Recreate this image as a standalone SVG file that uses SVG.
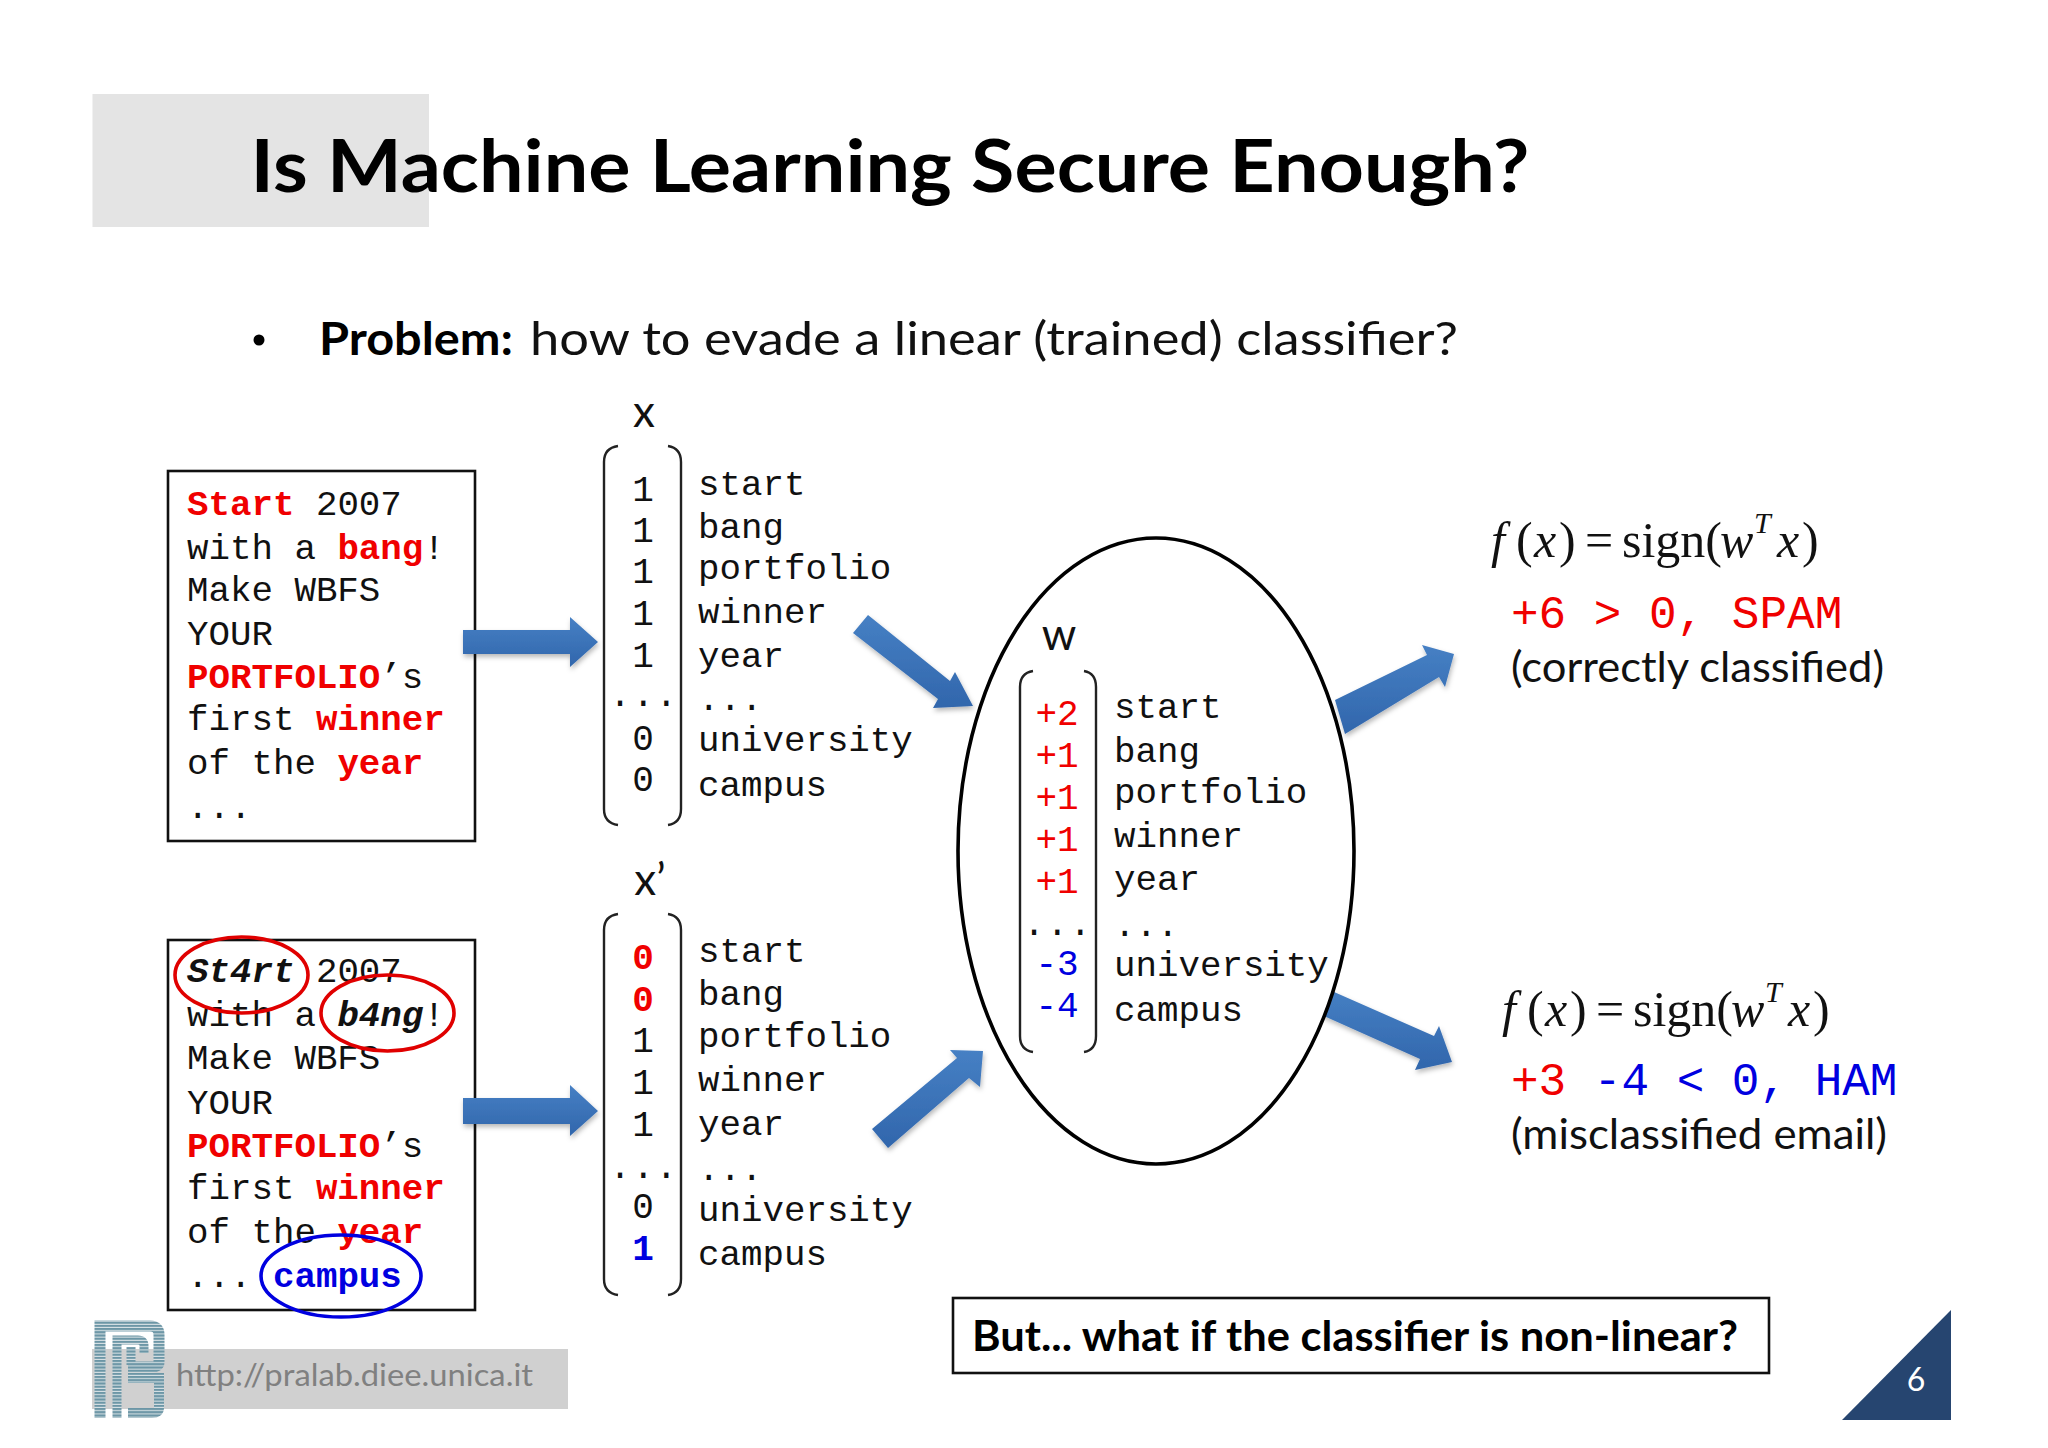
<svg xmlns="http://www.w3.org/2000/svg" width="2048" height="1448" viewBox="0 0 2048 1448">
<style>
.m{font-family:"Liberation Mono",monospace;font-size:35.8px;fill:#111}
.d{font-family:"Liberation Mono",monospace;font-size:36px;fill:#111;text-anchor:middle}
.dots{letter-spacing:1.5px}
.b{font-weight:700}
.r{fill:#f00000}
.u{fill:#0000e0}
.k{fill:#111}
.bi{font-weight:700;font-style:italic}
.lab{font-family:Lato,"Liberation Sans",sans-serif;font-size:44px;fill:#111;text-anchor:middle}
.f{font-family:"Liberation Serif",serif;font-size:50px;fill:#111}
.fi{font-style:italic}
.sup{font-size:30px}
.res{font-family:"Liberation Mono",monospace;font-size:46px}
.cal{font-family:Lato,"Liberation Sans",sans-serif;font-size:42px;fill:#111}
.box{fill:#fff;stroke:#111;stroke-width:2.6}
.br{fill:none;stroke:#222;stroke-width:2.4}
.arrow{fill:url(#ag);filter:url(#sh)}
.circ{fill:none;stroke-width:3.6}
</style>
<defs>
<linearGradient id="ag" x1="0" y1="0" x2="0" y2="1"><stop offset="0" stop-color="#4680c4"/><stop offset="1" stop-color="#3166ac"/></linearGradient>
<filter id="sh" x="-20%" y="-20%" width="140%" height="140%"><feDropShadow dx="1" dy="3" stdDeviation="2.5" flood-color="#000" flood-opacity="0.28"/></filter>
<pattern id="stripe" width="4" height="3.2" patternUnits="userSpaceOnUse"><rect width="4" height="3.2" fill="#dfe6e9"/><rect width="4" height="2.2" fill="#6c96a6"/></pattern>
</defs>
<rect width="2048" height="1448" fill="#fff"/>

<g id="title">
<rect x="92.5" y="94" width="336.5" height="133" fill="#e4e4e4"/>
<text x="250.5" y="192" font-family="Lato,'Liberation Sans',sans-serif" font-weight="700" font-size="73" fill="#000" textLength="1279" lengthAdjust="spacingAndGlyphs">Is Machine Learning Secure Enough?</text>
</g>
<g id="problem">
<circle cx="259" cy="340" r="5.5" fill="#000"/>
<text x="319" y="355" font-family="Lato,'Liberation Sans',sans-serif" font-weight="700" font-size="46" fill="#000" textLength="194" lengthAdjust="spacingAndGlyphs">Problem:</text>
<text x="530" y="355" font-family="Lato,'Liberation Sans',sans-serif" font-weight="400" font-size="46" fill="#111" textLength="928" lengthAdjust="spacingAndGlyphs">how to evade a linear (trained) classifier?</text>
</g>

<g id="email-original">
<rect class="box" x="168" y="471" width="307" height="370"/>
<text class="m" x="187" y="515"><tspan class="b r">Start</tspan> 2007</text>
<text class="m" x="187" y="559">with a <tspan class="b r">bang</tspan>!</text>
<text class="m" x="187" y="601">Make WBFS</text>
<text class="m" x="187" y="645">YOUR</text>
<text class="m" x="187" y="688"><tspan class="b r">PORTFOLIO</tspan>’s</text>
<text class="m" x="187" y="730">first <tspan class="b r">winner</tspan></text>
<text class="m" x="187" y="774">of the <tspan class="b r">year</tspan></text>
<text class="m" x="187" y="818">...</text>
</g>

<g id="email-modified">
<rect class="box" x="168" y="940" width="307" height="370"/>
<text class="m" x="187" y="982"><tspan class="bi">St4rt</tspan> 2007</text>
<text class="m" x="187" y="1026">with a <tspan class="bi">b4ng</tspan>!</text>
<text class="m" x="187" y="1069">Make WBFS</text>
<text class="m" x="187" y="1114">YOUR</text>
<text class="m" x="187" y="1157"><tspan class="b r">PORTFOLIO</tspan>’s</text>
<text class="m" x="187" y="1199">first <tspan class="b r">winner</tspan></text>
<text class="m" x="187" y="1243">of the <tspan class="b r">year</tspan></text>
<text class="m" x="187" y="1287">... <tspan class="b u">campus</tspan></text>
<ellipse class="circ" cx="241.5" cy="975" rx="66.5" ry="38" stroke="#e00000"/>
<ellipse class="circ" cx="387.5" cy="1013" rx="66.5" ry="38" stroke="#e00000"/>
<ellipse class="circ" cx="341" cy="1276" rx="80" ry="41" stroke="#0000e0"/>
</g>

<g id="vector-x">
<text class="lab" x="644" y="427">x</text>
<path class="br" d="M618 446Q604 448 604 462V809Q604 823 618 825M668 446Q681 448 681 462V809Q681 823 668 825"/>
<text class="d" x="643" y="501">1</text><text class="d" x="643" y="542">1</text><text class="d" x="643" y="583">1</text><text class="d" x="643" y="625">1</text><text class="d" x="643" y="667">1</text>
<text class="d dots" x="644" y="706">...</text>
<text class="d" x="643" y="750">0</text><text class="d" x="643" y="791">0</text>
<text class="m" x="698" y="495">start</text><text class="m" x="698" y="538">bang</text><text class="m" x="698" y="579">portfolio</text><text class="m" x="698" y="623">winner</text><text class="m" x="698" y="667">year</text><text class="m" x="698" y="710">...</text><text class="m" x="698" y="751">university</text><text class="m" x="698" y="796">campus</text>
</g>

<g id="vector-x-prime">
<text class="lab" x="650" y="895">x’</text>
<path class="br" d="M618 914Q604 916 604 930V1279Q604 1293 618 1295M668 914Q681 916 681 930V1279Q681 1293 668 1295"/>
<text class="d b r" x="643" y="969">0</text><text class="d b r" x="643" y="1011">0</text><text class="d" x="643" y="1052">1</text><text class="d" x="643" y="1094">1</text><text class="d" x="643" y="1136">1</text>
<text class="d dots" x="644" y="1178">...</text>
<text class="d" x="643" y="1218">0</text><text class="d b u" x="643" y="1260">1</text>
<text class="m" x="698" y="962">start</text><text class="m" x="698" y="1005">bang</text><text class="m" x="698" y="1047">portfolio</text><text class="m" x="698" y="1091">winner</text><text class="m" x="698" y="1135">year</text><text class="m" x="698" y="1180">...</text><text class="m" x="698" y="1221">university</text><text class="m" x="698" y="1265">campus</text>
</g>

<g id="connectors">
<polygon class="arrow" points="463,630 570,630 570,617 598,642 570,667 570,654 463,654"/>
<polygon class="arrow" points="463,1098 570,1098 570,1085 598,1111 570,1136 570,1124 463,1124"/>
<polygon class="arrow" points="868,615 950,681 955,672 973,706 933,708 938,699 853,633"/>
<polygon class="arrow" points="872,1129 957,1058 950,1050 983,1051 980,1087 969,1078 888,1148"/>
<polygon class="arrow" points="1335,700 1427,655 1422,645 1454,654 1445,687 1439,677 1345,734"/>
<polygon class="arrow" points="1325,988 1434,1036 1439,1026 1452,1062 1415,1070 1420,1059 1315,1012"/>
</g>

<g id="classifier">
<ellipse cx="1156" cy="851" rx="198" ry="313" fill="#fff" stroke="#000" stroke-width="3.6"/>
<text class="lab" x="1059" y="650">w</text>
<path class="br" d="M1033 671Q1020 673 1020 687V1036Q1020 1050 1033 1052M1084 671Q1096 673 1096 687V1036Q1096 1050 1084 1052"/>
<text class="d r" x="1057" y="725">+2</text><text class="d r" x="1057" y="767">+1</text><text class="d r" x="1057" y="809">+1</text><text class="d r" x="1057" y="851">+1</text><text class="d r" x="1057" y="893">+1</text>
<text class="d dots" x="1058" y="935">...</text>
<text class="d u" x="1057" y="975">-3</text><text class="d u" x="1057" y="1017">-4</text>
<text class="m" x="1114" y="718">start</text><text class="m" x="1114" y="762">bang</text><text class="m" x="1114" y="803">portfolio</text><text class="m" x="1114" y="847">winner</text><text class="m" x="1114" y="890">year</text><text class="m" x="1114" y="936">...</text><text class="m" x="1114" y="976">university</text><text class="m" x="1114" y="1021">campus</text>
</g>

<g id="result-spam">
<text class="f fi" x="1491" y="557">f</text><text class="f" x="1516" y="557">(</text><text class="f fi" x="1534" y="557">x</text><text class="f" x="1559" y="557">)</text><text class="f" x="1585" y="557">=</text><text class="f" x="1622" y="557">sign(</text><text class="f fi" x="1720" y="557">w</text><text class="f fi sup" x="1754" y="533">T</text><text class="f fi" x="1777" y="557">x</text><text class="f" x="1802" y="557">)</text>
<text class="res r" x="1511" y="628">+6 &gt; 0, SPAM</text>
<text class="cal" x="1511" y="682" textLength="373" lengthAdjust="spacingAndGlyphs">(correctly classified)</text>
</g>

<g id="result-ham">
<text class="f fi" x="1502" y="1026">f</text><text class="f" x="1527" y="1026">(</text><text class="f fi" x="1545" y="1026">x</text><text class="f" x="1570" y="1026">)</text><text class="f" x="1596" y="1026">=</text><text class="f" x="1633" y="1026">sign(</text><text class="f fi" x="1731" y="1026">w</text><text class="f fi sup" x="1765" y="1002">T</text><text class="f fi" x="1788" y="1026">x</text><text class="f" x="1813" y="1026">)</text>
<text class="res" x="1511" y="1095"><tspan class="r">+3</tspan><tspan class="u"> -4 &lt; 0, HAM</tspan></text>
<text class="cal" x="1511" y="1149" textLength="376" lengthAdjust="spacingAndGlyphs">(misclassified email)</text>
</g>

<g id="question">
<rect x="953" y="1298" width="816" height="75" fill="#fff" stroke="#111" stroke-width="2.6"/>
<text x="972" y="1351" font-family="Lato,'Liberation Sans',sans-serif" font-weight="700" font-size="42" fill="#000" textLength="766" lengthAdjust="spacingAndGlyphs">But... what if the classifier is non-linear?</text>
</g>

<g id="footer">
<rect x="92" y="1349" width="476" height="60" fill="#d0d0d0"/>
<text x="176" y="1386" font-family="Lato,'Liberation Sans',sans-serif" font-size="31" fill="#808080" textLength="357" lengthAdjust="spacingAndGlyphs">http://pralab.diee.unica.it</text>
<g fill="none" stroke="url(#stripe)">
<path d="M100 1418V1326H150Q159 1326 159 1335V1362Q159 1367 152 1367H128" stroke-width="11"/>
<path d="M117 1418V1340H138Q144 1340 144 1346V1353M131 1347V1365" stroke-width="9"/>
<path d="M128 1378H159V1408Q159 1413 152 1413H128" stroke-width="10"/>
</g>
</g>

<g id="page-number">
<polygon points="1951,1310 1951,1420 1842,1420" fill="#264570"/>
<text x="1916" y="1391" font-family="Lato,'Noto Sans',sans-serif" font-size="32" fill="#fff" text-anchor="middle">6</text>
</g>
</svg>
